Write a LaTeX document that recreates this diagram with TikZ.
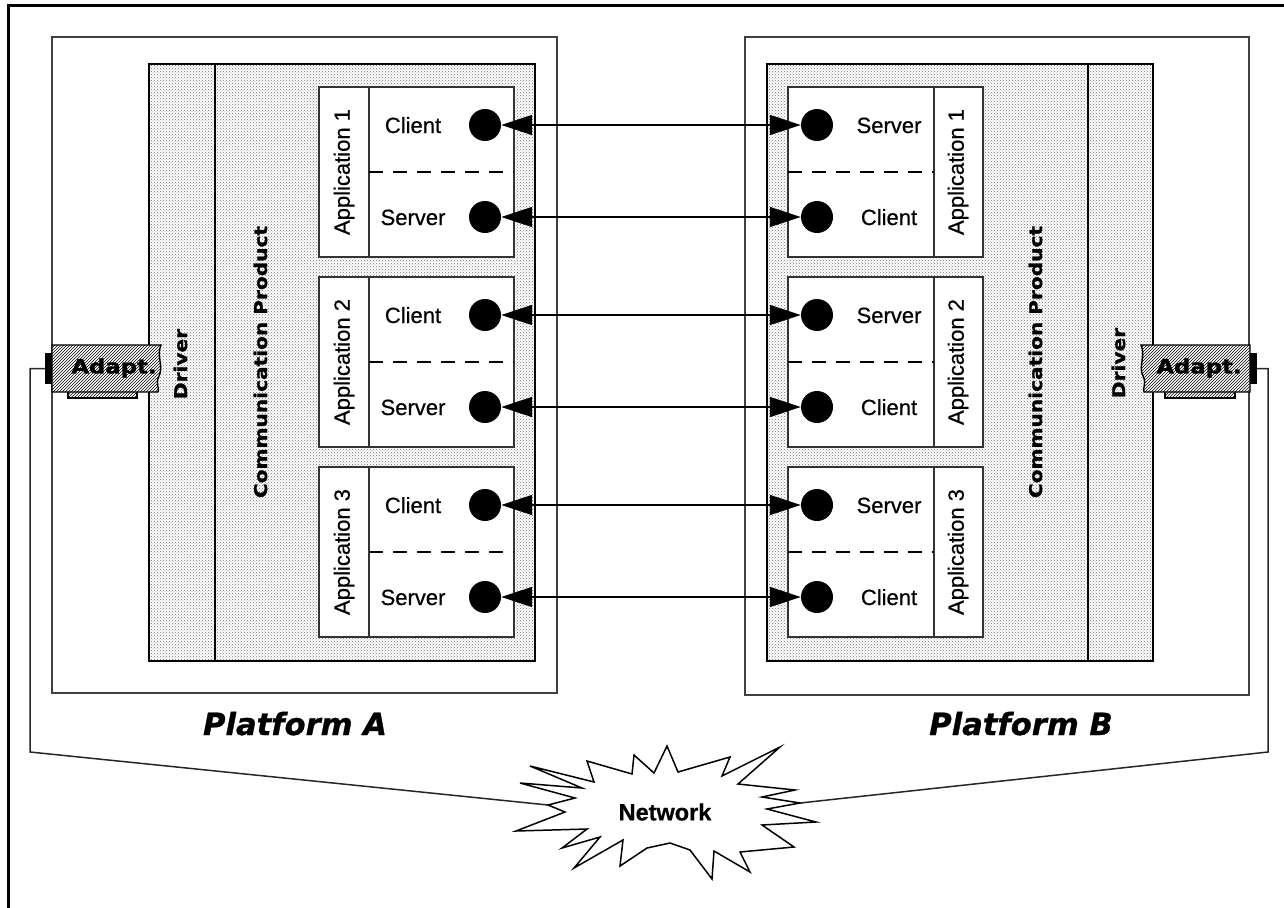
\documentclass[tikz,border=0pt]{standalone}
\usepackage{fontspec}
\setmainfont{Liberation Sans}[FakeBold=0.6]
\newfontfamily\widefont{DejaVu Sans}[FakeBold=1]
\newfontfamily\extfont{DejaVu Sans}[FakeStretch=1.15, FakeBold=1.2]
\usetikzlibrary{arrows.meta,patterns}

\tikzset{
  frameline/.style={line width=3pt, line cap=rect},
  platform/.style={draw=black!75, line width=2pt},
  commprod/.style={draw=black, line width=1.6pt, preaction={fill=white}, pattern=crosshatch dots, pattern color=black!55},
  appbox/.style={draw=black!80, line width=1.6pt, fill=white},
  sepline/.style={draw=black!80, line width=1.6pt},
  halfline/.style={draw=black, line width=1.3pt, dash pattern=on 14pt off 10pt},
  endpoint/.style={circle, fill=black, inner sep=0pt, minimum size=32pt},
  role/.style={font=\fontsize{22}{26}\selectfont, inner sep=0pt, anchor=base},
  appname/.style={font=\fontsize{22}{26}\selectfont, rotate=90, inner sep=0pt},
  extbold/.style={font=\extfont\bfseries\fontsize{#1}{#1}\selectfont, inner sep=0pt},
  link/.style={line width=1.5pt, {Triangle[length=31pt,width=20pt]}-{Triangle[length=31pt,width=20pt]}},
  adapter/.style={draw=black, line width=1.4pt, preaction={fill=white}, pattern=north east lines},
  plug/.style={fill=black, inner sep=0pt, minimum width=7pt, minimum height=31pt},
  wire/.style={draw=black!85, line width=1.5pt},
  burst/.style={draw=black, line width=1.5pt, fill=white, line join=miter}
}

\begin{document}
\begin{tikzpicture}[x=1pt,y=-1pt]
\useasboundingbox (0,0) rectangle (1284,907);

% outer frame (left and top edges)
\draw[frameline] (8,920) -- (8,6) -- (1300,6);

% platform boxes
\draw[platform] (52,37) rectangle (557,693);
\draw[platform] (745,37) rectangle (1249,695);

% communication product areas with driver strips
\draw[commprod] (149,64) rectangle (535,661);
\draw[sepline,draw=black] (215,64) -- (215,661);
\draw[commprod] (767,64) rectangle (1153,661);
\draw[sepline,draw=black] (1088,64) -- (1088,661);

\node[extbold=17.5, rotate=90, anchor=base] (cpA) at (267,362) {Communication Product};
\node[extbold=17.5, rotate=90, anchor=base] (cpB) at (1042,362) {Communication Product};
\node[extbold=17.5, rotate=90, anchor=base] (drvA) at (187,364) {Driver};
\node[extbold=17.5, rotate=90, anchor=base] (drvB) at (1125,363) {Driver};

% application boxes, platform A
\foreach \i/\t in {1/87,2/277,3/467}{
  \draw[appbox] (319,\t) rectangle (514,\t+170);
  \draw[sepline] (369,\t) -- (369,\t+170);
  \draw[halfline] (369,\t+85) -- (514,\t+85);
  \node[appname] (appA\i) at (344,\t+85) {Application \i};
  \node[role] (cliA\i) at (413,\t+46) {Client};
  \node[role] (srvA\i) at (413,\t+138) {Server};
  \node[endpoint] (epA\i c) at (485,\t+38) {};
  \node[endpoint] (epA\i s) at (485,\t+130) {};
}

% application boxes, platform B
\foreach \i/\t in {1/87,2/277,3/467}{
  \draw[appbox] (788,\t) rectangle (983,\t+170);
  \draw[sepline] (934,\t) -- (934,\t+170);
  \draw[halfline] (788,\t+85) -- (934,\t+85);
  \node[appname] (appB\i) at (958,\t+85) {Application \i};
  \node[role] (srvB\i) at (889,\t+46) {Server};
  \node[role] (cliB\i) at (889,\t+138) {Client};
  \node[endpoint] (epB\i s) at (817,\t+38) {};
  \node[endpoint] (epB\i c) at (817,\t+130) {};
}

% client/server links
\foreach \i in {1,2,3}{
  \draw[link] (epA\i c) -- (epB\i s);
  \draw[link] (epA\i s) -- (epB\i c);
}

% adapter cards
\draw[adapter] (68,388) rectangle (137,398);
\draw[adapter] (52,345) -- (161,345)
  .. controls (156,356) and (164,366) .. (159,376)
  .. controls (155,384) and (160,389) .. (158,392) -- (52,392) -- cycle;
\node[extbold=19.8] (adtA) at (114,368) {Adapt.};
\node[plug] (plugA) at (48.5,368.5) {};

\draw[adapter] (1165,388) rectangle (1235,398);
\draw[adapter] (1250,345) -- (1141,345)
  .. controls (1146,356) and (1138,366) .. (1143,376)
  .. controls (1147,384) and (1142,389) .. (1144,392) -- (1250,392) -- cycle;
\node[extbold=19.8] (adtB) at (1199,368) {Adapt.};
\node[plug] (plugB) at (1253.5,368.5) {};

% network cloud
\draw[burst] (516,831) -- (565,812) -- (548,805) -- (575,798) -- (520,783)
  -- (582,788) -- (530,766) -- (594,782) -- (587,761) -- (632,774)
  -- (634,755) -- (654,773) -- (667,746) -- (678,772) -- (730,757)
  -- (722,776) -- (780,747) -- (738,784) -- (795,790) -- (762,797)
  -- (800,803) -- (767,809) -- (816,822) -- (762,825) -- (794,847)
  -- (740,852) -- (750,872) -- (714,851) -- (712,879) -- (690,850)
  -- (670,843) -- (647,848) -- (620,866) -- (623,840) -- (574,868)
  -- (600,837) -- (562,848) -- (587,829) -- cycle;
\coordinate (netL) at (548,805);
\coordinate (netR) at (800,803);
\node[font=\bfseries\fontsize{23.5}{26}\selectfont, inner sep=0pt] (net) at (665,812) {Network};

% network wiring
\draw[wire] (plugA.west) -- (30,368.5) -- (30,752) -- (netL);
\draw[wire] (plugB.east) -- (1268,368.5) -- (1268,752) -- (netR);

% platform titles
\node[font=\widefont\bfseries\itshape\fontsize{30.6}{32}\selectfont, inner sep=0pt, anchor=base] (titA) at (295,735) {Platform A};
\node[font=\widefont\bfseries\itshape\fontsize{30.6}{32}\selectfont, inner sep=0pt, anchor=base] (titB) at (1021,735) {Platform B};
\end{tikzpicture}
\end{document}
